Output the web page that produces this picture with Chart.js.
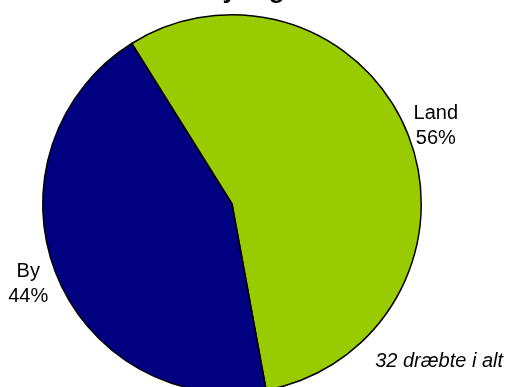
<!DOCTYPE html>
<html>
<head>
<meta charset="utf-8">
<script src="https://cdn.jsdelivr.net/npm/chart.js@4/dist/chart.umd.min.js"></script>
<style>
  html, body { margin: 0; padding: 0; background: #ffffff; overflow: hidden; }
  #wrap { width: 508px; height: 387px; overflow: hidden; position: relative; }
  canvas { display: block; }
</style>
</head>
<body>
<div id="wrap"><canvas id="pie" width="508" height="420"></canvas></div>
<script>
// Share of people killed, by area type (percent)
const categories = ['Land', 'By'];
const shares = [56, 44];
const sliceColors = ['#99CC00', '#000080'];
const titleText = 'Dræbte i by- og landområder';
const totalNote = '32 dræbte i alt';

// Category name + percentage drawn just outside each slice
const sliceLabels = {
  id: 'sliceLabels',
  afterDatasetsDraw(chart) {
    const ctx = chart.ctx;
    const meta = chart.getDatasetMeta(0);
    const data = chart.data.datasets[0].data;
    const total = data.reduce((a, b) => a + b, 0);
    ctx.save();
    ctx.font = '20px "Liberation Sans", Arial, sans-serif';
    ctx.fillStyle = '#000000';
    ctx.textAlign = 'center';
    ctx.textBaseline = 'alphabetic';
    meta.data.forEach((arc, i) => {
      const p = arc.getProps(['x', 'y', 'startAngle', 'endAngle', 'outerRadius'], true);
      const mid = (p.startAngle + p.endAngle) / 2;
      const d = p.outerRadius * 1.155;
      const cx = p.x + Math.cos(mid) * d;
      const cy = p.y + Math.sin(mid) * d;
      const pct = Math.round(data[i] / total * 100) + '%';
      ctx.fillText(chart.data.labels[i], cx, cy - 6);
      ctx.fillText(pct, cx, cy + 19);
    });
    ctx.restore();
  }
};

// Title above the pie and the total note at the lower right
const extraText = {
  id: 'extraText',
  afterDraw(chart) {
    const ctx = chart.ctx;
    ctx.save();
    ctx.fillStyle = '#000000';
    ctx.font = 'bold 26px "Liberation Sans", Arial, sans-serif';
    ctx.textAlign = 'left';
    ctx.textBaseline = 'alphabetic';
    ctx.fillText(titleText, 94, -2.5);
    ctx.font = 'italic 20px "Liberation Sans", Arial, sans-serif';
    ctx.textAlign = 'right';
    ctx.fillText(totalNote, chart.width - 5, 367);
    ctx.restore();
  }
};

new Chart(document.getElementById('pie'), {
  type: 'pie',
  data: {
    labels: categories,
    datasets: [{
      data: shares,
      backgroundColor: sliceColors,
      borderColor: '#000000',
      borderWidth: 1.5
    }]
  },
  options: {
    responsive: false,
    animation: false,
    events: [],
    rotation: -32,
    layout: { padding: { left: 42, right: 86, top: 14, bottom: 26 } },
    plugins: {
      legend: { display: false },
      tooltip: { enabled: false },
      title: { display: false }
    }
  },
  plugins: [sliceLabels, extraText]
});
</script>
</body>
</html>
